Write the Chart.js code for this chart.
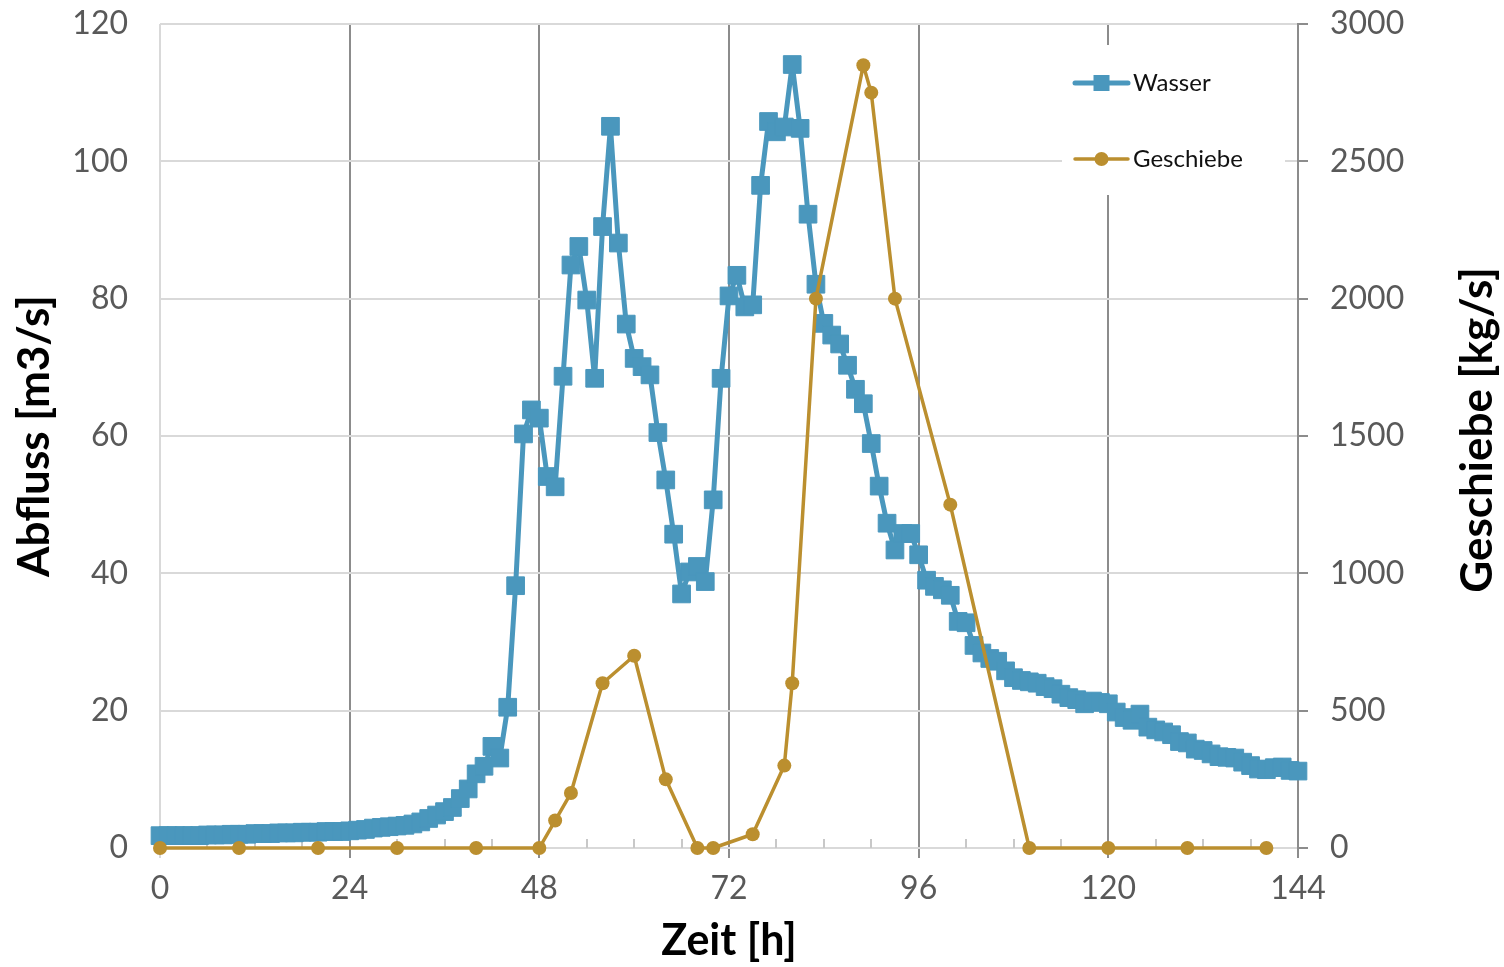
<!DOCTYPE html>
<html>
<head>
<meta charset="utf-8">
<script src="https://cdn.jsdelivr.net/npm/chart.js@4.4.1/dist/chart.umd.min.js"></script>
<style>
  html, body { margin: 0; padding: 0; background: #fff; }
  #wrap { width: 1504px; height: 967px; }
</style>
</head>
<body>
<div id="wrap"><canvas id="chart" width="1504" height="967"></canvas></div>
<script>
// Abfluss (Wasser), m3/s, one value per hour
const wasserHours = [
  0, 1, 2, 3, 4, 5, 6, 7, 8, 9, 10, 11, 12, 13, 14, 15, 16, 17, 18, 19,
  20, 21, 22, 23, 24, 25, 26, 27, 28, 29, 30, 31, 32, 33, 34, 35, 36, 37, 38, 39,
  40, 41, 42, 43, 44, 45, 46, 47, 48, 49, 50, 51, 52, 53, 54, 55, 56, 57, 58, 59,
  60, 61, 62, 63, 64, 65, 66, 67, 68, 69, 70, 71, 72, 73, 74, 75, 76, 77, 78, 79,
  80, 81, 82, 83, 84, 85, 86, 87, 88, 89, 90, 91, 92, 93, 94, 95, 96, 97, 98, 99,
  100, 101, 102, 103, 104, 105, 106, 107, 108, 109, 110, 111, 112, 113, 114, 115, 116, 117, 118, 119,
  120, 121, 122, 123, 124, 125, 126, 127, 128, 129, 130, 131, 132, 133, 134, 135, 136, 137, 138, 139,
  140, 141, 142, 143, 144
];
const wasser = [
  1.8, 1.8, 1.8, 1.8, 1.8, 1.8, 1.9, 1.9, 1.9, 2.0,
  2.0, 2.0, 2.1, 2.1, 2.1, 2.2, 2.2, 2.2, 2.3, 2.3,
  2.3, 2.4, 2.4, 2.4, 2.5, 2.6, 2.7, 2.9, 3.0, 3.1,
  3.2, 3.3, 3.5, 3.8, 4.3, 4.8, 5.3, 5.9, 7.2, 8.6,
  10.8, 11.9, 14.8, 13.1, 20.5, 38.2, 60.3, 63.8, 62.6, 54.1,
  52.6, 68.7, 84.9, 87.6, 79.8, 68.4, 90.5, 105.1, 88.1, 76.3,
  71.3, 70.1, 68.9, 60.5, 53.6, 45.7, 37.0, 40.2, 41.0, 38.8,
  50.7, 68.4, 80.4, 83.4, 78.8, 79.1, 96.5, 105.8, 104.3, 105.0,
  114.1, 104.8, 92.3, 82.1, 76.4, 74.7, 73.4, 70.3, 66.8, 64.7,
  58.9, 52.7, 47.3, 43.4, 45.8, 45.8, 42.7, 39.0, 38.1, 37.6,
  36.8, 33.0, 32.8, 29.5, 28.4, 27.6, 27.2, 25.8, 24.8, 24.4,
  24.2, 24.0, 23.5, 23.2, 22.4, 21.9, 21.6, 21.0, 21.4, 21.2,
  21.0, 19.8, 19.0, 18.6, 19.5, 17.6, 17.2, 16.9, 16.5, 15.5,
  15.3, 14.4, 14.2, 13.7, 13.3, 13.2, 13.1, 12.5, 12.0, 11.5,
  11.4, 11.7, 11.8, 11.3, 11.2
];

// Geschiebe, kg/s
const geschiebeHours = [0, 10, 20, 30, 40, 48, 50, 52, 56, 60, 64, 68, 70, 75, 79, 80, 83, 89, 90, 93, 100, 110, 120, 130, 140];
const geschiebe = [0, 0, 0, 0, 0, 0, 100, 200, 600, 700, 250, 0, 0, 50, 300, 600, 2000, 2850, 2750, 2000, 1250, 0, 0, 0, 0];

const minorTicks = [6, 12, 18, 30, 36, 42, 54, 60, 66, 78, 84, 90, 102, 108, 114, 126, 132, 138];

const blue = '#4a97bd';
const gold = '#bb8f2f';
const tickColor = '#595959';
const lightGrid = '#d9d9d9';
const darkGrid = '#8c8c8c';
const fontFamily = 'Lato, "Noto Sans", sans-serif';

const toPoints = (xs, ys) => xs.map((x, i) => ({ x, y: ys[i] }));

const minorTickPlugin = {
  id: 'minorTicks',
  beforeDatasetsDraw(chart) {
    const { ctx, scales: { x }, chartArea } = chart;
    ctx.save();
    ctx.strokeStyle = '#c8c8c8';
    ctx.lineWidth = 2;
    minorTicks.forEach((t) => {
      const px = Math.round(x.getPixelForValue(t));
      ctx.beginPath();
      ctx.moveTo(px, chartArea.bottom);
      ctx.lineTo(px, chartArea.bottom - 9);
      ctx.stroke();
    });
    ctx.restore();
  },
};

// right title reads bottom-to-top like the left one
const rightTitlePlugin = {
  id: 'rightTitle',
  afterDraw(chart) {
    const { ctx, chartArea } = chart;
    ctx.save();
    ctx.translate(chart.width - 26, (chartArea.top + chartArea.bottom) / 2 - 6);
    ctx.rotate(-Math.PI / 2);
    ctx.font = 'bold 44px ' + fontFamily;
    ctx.fillStyle = '#000';
    ctx.textAlign = 'center';
    ctx.textBaseline = 'middle';
    ctx.fillText('Geschiebe [kg/s]', 0, 0);
    ctx.restore();
  },
};

const legendPlugin = {
  id: 'boxLegend',
  afterDraw(chart) {
    const { ctx, chartArea } = chart;
    const left = chartArea.right - 236;
    const top = chartArea.top + 21;
    ctx.save();
    ctx.fillStyle = '#fff';
    ctx.fillRect(left, top, 223, 150);

    const items = [
      { label: 'Wasser', color: blue, width: 5, shape: 'rect', y: chartArea.top + 59 },
      { label: 'Geschiebe', color: gold, width: 3.5, shape: 'circle', y: chartArea.top + 135 },
    ];
    items.forEach((it) => {
      const x0 = left + 13;
      const x1 = left + 66;
      const cx = (x0 + x1) / 2;
      ctx.strokeStyle = it.color;
      ctx.lineWidth = it.width;
      ctx.lineCap = 'round';
      ctx.beginPath();
      ctx.moveTo(x0, it.y);
      ctx.lineTo(x1, it.y);
      ctx.stroke();
      ctx.fillStyle = it.color;
      if (it.shape === 'rect') {
        ctx.fillRect(cx - 8, it.y - 8, 16, 16);
      } else {
        ctx.beginPath();
        ctx.arc(cx, it.y, 7, 0, Math.PI * 2);
        ctx.fill();
      }
      ctx.fillStyle = '#111';
      ctx.font = '24px ' + fontFamily;
      ctx.textBaseline = 'middle';
      ctx.fillText(it.label, x1 + 5, it.y);
    });
    ctx.restore();
  },
};

new Chart(document.getElementById('chart'), {
  type: 'line',
  data: {
    datasets: [
      {
        label: 'Wasser',
        data: toPoints(wasserHours, wasser),
        yAxisID: 'y',
        borderColor: blue,
        backgroundColor: blue,
        borderWidth: 5,
        borderJoinStyle: 'round',
        pointStyle: 'rect',
        pointRadius: 12.5,
        pointBorderWidth: 1,
        tension: 0,
        order: 2,
        clip: false,
      },
      {
        label: 'Geschiebe',
        data: toPoints(geschiebeHours, geschiebe),
        yAxisID: 'y2',
        borderColor: gold,
        backgroundColor: gold,
        borderWidth: 3.5,
        borderJoinStyle: 'round',
        pointStyle: 'circle',
        pointRadius: 7,
        pointBorderWidth: 0,
        tension: 0,
        order: 1,
        clip: false,
      },
    ],
  },
  options: {
    responsive: false,
    animation: false,
    events: [],
    layout: { padding: { top: 24, left: 0, right: 0, bottom: 0 } },
    plugins: { legend: { display: false }, tooltip: { enabled: false } },
    scales: {
      x: {
        type: 'linear',
        min: 0,
        max: 144,
        afterFit: (s) => { s.height = 119; },
        ticks: {
          stepSize: 24,
          color: tickColor,
          padding: 11,
          font: { family: fontFamily, size: 32 },
          maxRotation: 0,
        },
        grid: {
          color: (c) => (c.tick && c.tick.value === 0 ? lightGrid : darkGrid),
          lineWidth: 2,
          tickLength: 10,
        },
        border: { display: false },
        title: {
          display: true,
          text: 'Zeit [h]',
          color: '#000',
          font: { family: fontFamily, size: 43, weight: 'bold' },
          padding: { top: 0, bottom: 0 },
        },
      },
      y: {
        position: 'left',
        min: 0,
        max: 120,
        afterFit: (s) => { s.width = 160; },
        ticks: {
          stepSize: 20,
          color: tickColor,
          padding: 4,
          font: { family: fontFamily, size: 32 },
        },
        grid: { color: lightGrid, lineWidth: 2, tickLength: 28, tickColor: 'rgba(0,0,0,0)' },
        border: { display: false },
        title: {
          display: true,
          text: 'Abfluss [m3/s]',
          color: '#000',
          font: { family: fontFamily, size: 44, weight: 'bold' },
          padding: { top: 8, bottom: 0 },
        },
      },
      y2: {
        position: 'right',
        min: 0,
        max: 3000,
        afterFit: (s) => { s.width = 206; },
        ticks: {
          stepSize: 500,
          color: tickColor,
          padding: 4,
          font: { family: fontFamily, size: 32 },
          callback: (v) => String(v),
        },
        grid: {
          drawOnChartArea: false,
          color: darkGrid,
          lineWidth: 2,
          tickLength: 28,
          tickBorderDash: [9, 100],
        },
        border: { display: true, color: darkGrid, width: 2 },
        title: { display: false },
      },
    },
  },
  plugins: [minorTickPlugin, rightTitlePlugin, legendPlugin],
});
</script>
</body>
</html>
